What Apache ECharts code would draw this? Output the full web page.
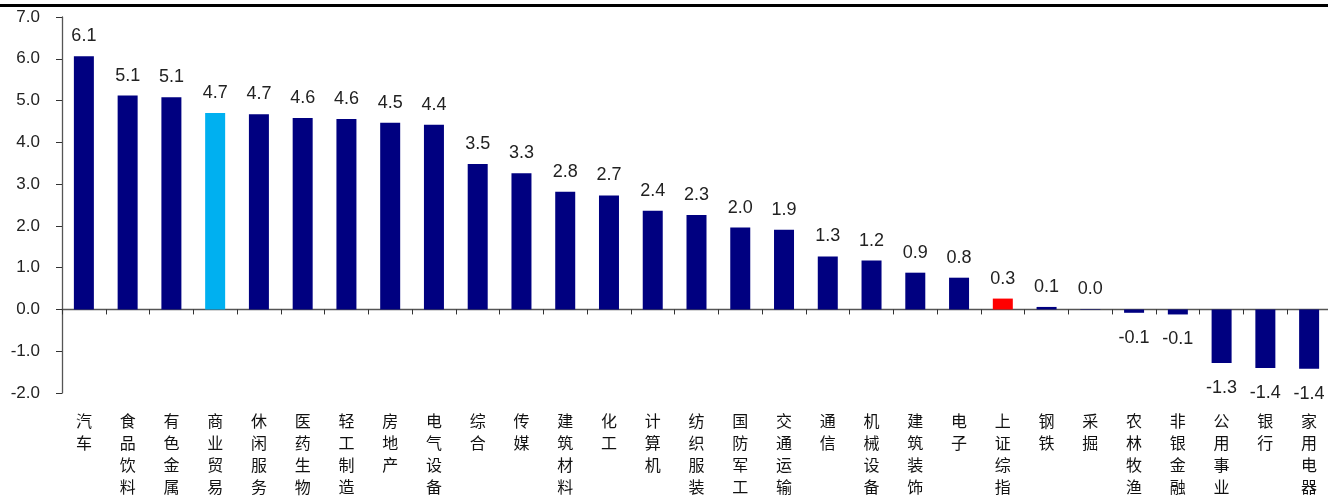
<!DOCTYPE html>
<html>
<head>
<meta charset="utf-8">
<script src="https://cdn.jsdelivr.net/npm/echarts@6/dist/echarts.min.js"></script>
<style>
html,body{margin:0;padding:0;background:#fff;}
#c{width:1328px;height:497px;}
</style>
</head>
<body>
<div id="c"></div>
<script>
const categories = ['汽车','食品饮料','有色金属','商业贸易','休闲服务','医药生物','轻工制造','房地产','电气设备','综合','传媒','建筑材料','化工','计算机','纺织服装','国防军工','交通运输','通信','机械设备','建筑装饰','电子','上证综指','钢铁','采掘','农林牧渔','非银金融','公用事业','银行','家用电器'];
const values = [6.06,5.12,5.08,4.70,4.67,4.58,4.56,4.47,4.42,3.48,3.26,2.82,2.73,2.36,2.26,1.96,1.91,1.27,1.17,0.88,0.76,0.26,0.06,0.01,-0.08,-0.12,-1.28,-1.40,-1.42];
const yTicks = [-2,-1,0,1,2,3,4,5,6,7];

const BASE = '#000080';
const highlight = { '商业贸易': '#00B0F0', '上证综指': '#FF0000' };

const chart = echarts.init(document.getElementById('c'));
chart.setOption({
  animation: false,
  backgroundColor: '#fff',
  graphic: [{
    type: 'rect', left: 0, top: 4, shape: { width: 1328, height: 3 },
    style: { fill: '#000' }, z: 10
  }],
  grid: { left: 62, top: 17, width: 1269, bottom: 104, containLabel: false, outerBoundsMode: 'none' },
  xAxis: {
    type: 'category',
    data: categories,
    axisLine: { onZero: true, lineStyle: { color: '#555', width: 1.3 } },
    axisTick: { show: true, length: 5, lineStyle: { color: '#333' } },
    axisLabel: {
      margin: 17,
      interval: 0,
      color: '#111',
      fontSize: 16,
      lineHeight: 22,
      fontFamily: 'Noto Sans CJK SC',
      verticalAlign: 'top',
      formatter: v => v.split('').join('\n')
    }
  },
  yAxis: {
    type: 'value',
    min: yTicks[0], max: yTicks[yTicks.length - 1], interval: 1,
    axisLine: { show: true, lineStyle: { color: '#555', width: 1.3 } },
    axisTick: { show: true, length: 6, lineStyle: { color: '#333' } },
    splitLine: { show: false },
    axisLabel: {
      margin: 22,
      color: '#222',
      fontSize: 17,
      fontFamily: 'Liberation Sans, Arial',
      formatter: v => v.toFixed(1)
    }
  },
  series: [{
    type: 'bar',
    barWidth: 20,
    data: values.map((v, i) => ({
      value: v,
      itemStyle: { color: highlight[categories[i]] || BASE },
      label: { position: v < 0 ? 'bottom' : 'top', distance: v < 0 ? 16 : 11 }
    })),
    label: {
      show: true,
      color: '#222',
      fontSize: 18,
      fontFamily: 'Liberation Sans, Arial',
      formatter: p => p.value.toFixed(1)
    }
  }]
});
</script>
</body>
</html>
